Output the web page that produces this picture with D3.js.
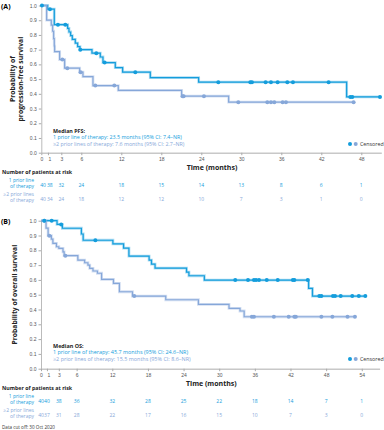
<!DOCTYPE html>
<html>
<head>
<meta charset="utf-8">
<script src="https://cdn.jsdelivr.net/npm/d3@7"></script>
<style>
  body { margin: 0; background: #fff; }
  svg { display: block; font-family: "Open Sans", sans-serif; }
</style>
</head>
<body>
<script>
// PFS (panel A) – step points [month, survival] and censor times
const pfsOneSteps = [[0,1],[0.95,0.975],[1.95,0.87],[3.95,0.845],[4.15,0.82],[4.4,0.795],[4.65,0.77],[5.1,0.745],[5.45,0.72],[5.8,0.70],[7.6,0.676],[8.85,0.65],[9.25,0.612],[11.1,0.578],[12.2,0.547],[16.35,0.51],[23.6,0.479],[45.8,0.379]];
const pfsOneEnd = 51;
const pfsOneCens = [0.1,1.3,2.5,3.6,5.85,8.25,9.5,14.1,26.55,31.35,31.6,33.65,34.45,35.45,36.9,37.75,43.1,46.35,46.65,50.8];
const pfsTwoSteps = [[0,1],[0.8,0.90],[1.5,0.867],[1.7,0.825],[1.85,0.775],[1.95,0.725],[2.0,0.687],[2.75,0.633],[3.5,0.574],[5.75,0.547],[6.25,0.517],[7.75,0.456],[11.55,0.424],[21.05,0.384],[28.1,0.343]];
const pfsTwoEnd = 46.9;
const pfsTwoCens = [3.15,3.9,5.9,8.1,10.95,21.2,21.35,24.4,29.55,33.9,34.45,34.95,36.2,36.7,46.85];

// OS (panel B)
const osOneSteps = [[0,1],[2.7,0.975],[3.6,0.949],[6.8,0.91],[7.1,0.868],[12.1,0.843],[13.9,0.815],[14.8,0.76],[18.2,0.734],[18.6,0.707],[19.2,0.68],[24.5,0.653],[24.9,0.628],[27.5,0.599],[45.05,0.543],[45.7,0.491]];
const osOneEnd = 54.6;
const osOneCens = [0.55,1.8,3.4,9.15,32.7,34.85,35.85,36.2,36.7,38.0,39.85,42.4,42.65,44.9,46.85,47.2,49.15,49.5,50.45,52.4,53.5,54.6];
const osTwoSteps = [[0,1],[0.85,0.95],[1.2,0.899],[1.75,0.876],[2.0,0.847],[2.6,0.824],[3.0,0.813],[3.7,0.79],[3.9,0.764],[6.2,0.734],[7.35,0.716],[7.9,0.70],[8.2,0.678],[8.75,0.66],[9.5,0.645],[10.2,0.604],[12.2,0.577],[13.2,0.52],[15.4,0.491],[21,0.466],[26.5,0.435],[31.65,0.408],[33.5,0.39],[34.2,0.351]];
const osTwoEnd = 52.85;
const osTwoCens = [0.55,1.4,4.1,15.7,35.5,35.85,39.2,41.7,42.65,42.9,47.2,49.05,51.6,52.85];

// numbers at risk
const pfsRiskMonths = [0,1,3,6,12,18,24,30,36,42,48];
const pfsRiskOne = [40,38,32,24,18,15,14,13,8,6,1];
const pfsRiskTwo = [40,34,24,18,12,12,10,7,3,1,0];
const osRiskMonths = [0,1,3,6,12,18,24,30,36,42,48,54];
const osRiskOne = [40,40,38,36,32,28,25,22,18,14,7,1];
const osRiskTwo = [40,37,31,28,22,17,16,15,10,7,3,0];

const yTicks = [0,0.1,0.2,0.3,0.4,0.5,0.6,0.7,0.8,0.9,1.0];

const dark = "#149ddc", light = "#86a7d9";

const svg = d3.select("body").append("svg")
  .attr("width", 384)
  .attr("height", 430);

function survAt(steps, t) {
  let s = 1;
  for (const [m, v] of steps) if (m <= t) s = v;
  return s;
}

function drawPanel(o) {
  const x = d3.scaleLinear().domain(o.xDomain).range(o.xRange);
  const y = d3.scaleLinear().domain([0, 1]).range(o.yRange);
  const g = svg.append("g");

  // panel letter
  g.append("text").attr("x", 1).attr("y", o.yRange[1] + 3.5)
    .style("font-size", "7px").style("font-weight", "bold").text(o.letter);

  // y axis
  const ya = g.append("g")
      .attr("transform", `translate(${x(0)},0)`)
      .call(d3.axisLeft(y).tickValues(yTicks).tickFormat(d3.format(".1f")).tickSize(2.5).tickPadding(2).tickSizeOuter(0));
  ya.select(".domain").attr("stroke", "#aaa").attr("stroke-width", 0.8);
  ya.selectAll(".tick line").attr("stroke", "#aaa");
  ya.selectAll("text").style("font-size", "5px").attr("fill", "#555").attr("font-family", null);

  // x axis
  const xa = g.append("g")
      .attr("transform", `translate(0,${y(0)})`)
      .call(d3.axisBottom(x).tickValues(o.xTicks).tickSize(2.5).tickPadding(2).tickSizeOuter(0));
  xa.select(".domain").attr("stroke", "#c8c8c8").attr("stroke-width", 1.6);
  xa.selectAll(".tick line").attr("stroke", "#aaa");
  xa.selectAll("text").style("font-size", "5px").attr("fill", "#555").attr("font-family", null)
    .attr("dx", d => d === 1 ? 1.5 : 0);

  g.append("text").attr("x", x(o.timeLabelAt)).attr("y", y(0) + 17)
    .style("font-size", "7px").style("font-weight", "bold").attr("fill", "#222")
    .text("Time (months)");

  // y label
  const yl = g.append("text")
    .attr("transform", `translate(0,${(o.yRange[0] + o.yRange[1]) / 2}) rotate(-90)`)
    .attr("text-anchor", "middle")
    .style("font-size", "6.8px").style("font-weight", "bold").attr("fill", "#222");
  o.yLabel.forEach((t, i) => yl.append("tspan").attr("x", 0).attr("y", o.yLabelX[i]).text(t));

  // curves
  const line = d3.line().curve(d3.curveStepAfter).x(d => x(d[0])).y(d => y(d[1]));
  o.series.forEach(s => {
    const pts = s.steps.concat([[s.end, s.steps[s.steps.length - 1][1]]]);
    g.append("path").datum(pts).attr("d", line)
      .attr("fill", "none").attr("stroke", s.color).attr("stroke-width", 2.8).attr("stroke-opacity", 0.35);
    g.append("path").datum(pts).attr("d", line)
      .attr("fill", "none").attr("stroke", s.color).attr("stroke-width", 1.2);
  });
  o.series.slice().reverse().forEach(s => {
    g.append("g").selectAll("circle").data(s.cens).join("circle")
      .attr("cx", d => x(d)).attr("cy", d => y(survAt(s.steps, d)))
      .attr("r", 2).attr("fill", s.color);
  });

  // median text, sized so the first series line spans the reference width
  const mt = g.append("g");
  const spans = o.median.map((t, i) => mt.append("text")
      .attr("x", 53).attr("y", o.medianY + i * 6.7)
      .style("font-size", "5.3px")
      .attr("fill", i === 0 ? "#222" : (i === 1 ? dark : light))
      .style("font-weight", i === 0 ? "bold" : null)
      .text(t));
  const w = spans[1].node().getComputedTextLength();
  const fs = Math.min(6.6, 5.3 * o.medianWidth / w);
  spans.forEach(s => s.style("font-size", fs + "px"));

  // legend
  const ly = o.medianY + 13.4 - 1.9;
  g.append("circle").attr("cx", 350).attr("cy", ly).attr("r", 2).attr("fill", dark);
  g.append("circle").attr("cx", 355.7).attr("cy", ly).attr("r", 2).attr("fill", light);
  g.append("text").attr("x", 360).attr("y", ly + 1.9).style("font-size", "5.3px").attr("fill", "#333").text("Censored");

  // number at risk
  const rt = o.riskTop;
  g.append("text").attr("x", 2).attr("y", rt).style("font-size", "5.3px").style("font-weight", "bold")
    .attr("fill", "#222").text("Number of patients at risk");
  const rows = [
    { vals: o.riskOne, color: dark, label: ["1 prior line", "of therapy"], dy: 11 },
    { vals: o.riskTwo, color: light, label: ["\u22652 prior lines", "of therapy"], dy: 24.5 }
  ];
  rows.forEach(r => {
    r.label.forEach((t, i) => {
      g.append("text").attr("x", 34).attr("y", rt + r.dy - 3.1 + i * 6.1)
        .attr("text-anchor", "end").style("font-size", "5px").attr("fill", r.color).text(t);
    });
    g.append("g").selectAll("text").data(r.vals).join("text")
      .attr("x", (d, i) => x(o.riskMonths[i]) + (o.riskShift && o.riskMonths[i] < 2 ? 1.8 : 0))
      .attr("y", rt + r.dy + 1.9)
      .attr("text-anchor", "middle").style("font-size", "5px").attr("fill", r.color)
      .text(d => d);
  });
}

drawPanel({
  letter: "(A)",
  xDomain: [0, 51], xRange: [41.3, 381.3],
  yRange: [152.7, 5.5],
  xTicks: [0,1,3,6,12,18,24,30,36,42,48],
  timeLabelAt: 21.8,
  yLabel: ["Probability of", "progression-free survival"], yLabelX: [15, 23],
  series: [
    { steps: pfsOneSteps, end: pfsOneEnd, cens: pfsOneCens, color: dark },
    { steps: pfsTwoSteps, end: pfsTwoEnd, cens: pfsTwoCens, color: light }
  ],
  median: ["Median PFS:", "1 prior line of therapy: 23.5 months (95% CI: 7.4\u2013NR)", "\u22652 prior lines of therapy: 7.6 months (95% CI: 2.7\u2013NR)"],
  medianWidth: 129,
  medianY: 132.6,
  riskTop: 174.3,
  riskMonths: pfsRiskMonths, riskOne: pfsRiskOne, riskTwo: pfsRiskTwo, riskShift: true
});

drawPanel({
  letter: "(B)",
  xDomain: [0, 57], xRange: [41, 379.6],
  yRange: [368.7, 220.7],
  xTicks: [0,1,3,6,12,18,24,30,36,42,48,54],
  timeLabelAt: 24.4,
  yLabel: ["Probability of overall survival"], yLabelX: [17],
  series: [
    { steps: osOneSteps, end: osOneEnd, cens: osOneCens, color: dark },
    { steps: osTwoSteps, end: osTwoEnd, cens: osTwoCens, color: light }
  ],
  median: ["Median OS:", "1 prior line of therapy: 45.7 months (95% CI: 24.6\u2013NR)", "\u22652 prior lines of therapy: 15.5 months (95% CI: 8.6\u2013NR)"],
  medianWidth: 135,
  medianY: 347.6,
  riskTop: 390.3,
  riskMonths: osRiskMonths, riskOne: osRiskOne, riskTwo: osRiskTwo, riskShift: false
});

svg.append("text").attr("x", 2).attr("y", 429).style("font-size", "4.6px").attr("fill", "#333")
  .text("Data cut off: 30 Oct 2020");
</script>
</body>
</html>
